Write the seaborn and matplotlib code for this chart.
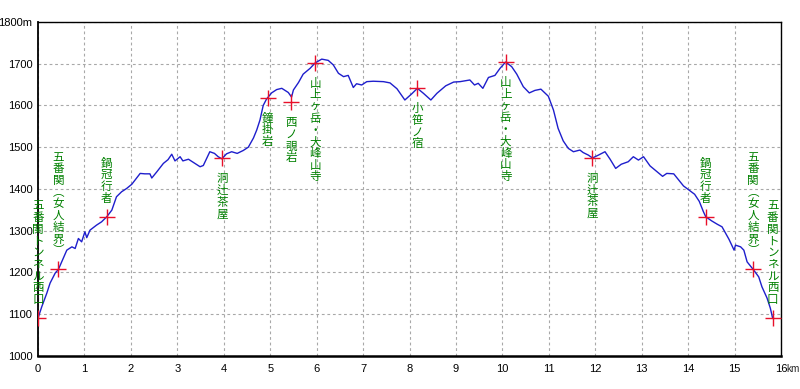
import matplotlib
matplotlib.use("Agg")
import matplotlib.pyplot as plt
import seaborn as sns
import pandas as pd

# ---------------- data ----------------
dist_km = [0.00, 0.08, 0.19, 0.26, 0.37, 0.44, 0.51, 0.62, 0.73, 0.80, 0.87, 0.94, 1.01, 1.05, 1.12,
           1.26, 1.37, 1.48, 1.59, 1.69, 1.80, 1.91, 2.02, 2.09, 2.20, 2.30, 2.41, 2.45, 2.56, 2.70,
           2.80, 2.88, 2.95, 3.06, 3.12, 3.24, 3.35, 3.49, 3.56, 3.70, 3.80, 3.88, 3.96, 4.06, 4.17,
           4.29, 4.42, 4.53, 4.64, 4.71, 4.78, 4.85, 4.92, 5.03, 5.14, 5.25, 5.39, 5.46, 5.50, 5.61,
           5.71, 5.86, 5.97, 6.11, 6.25, 6.36, 6.47, 6.58, 6.68, 6.79, 6.86, 6.97, 7.08, 7.22, 7.44,
           7.58, 7.73, 7.90, 8.05, 8.17, 8.30, 8.46, 8.59, 8.78, 8.95, 9.09, 9.30, 9.40, 9.48, 9.58,
           9.70, 9.84, 9.95, 10.07, 10.20, 10.31, 10.45, 10.58, 10.70, 10.83, 10.99, 11.10, 11.20,
           11.31, 11.42, 11.53, 11.67, 11.74, 11.85, 11.94, 12.07, 12.21, 12.32, 12.44, 12.56, 12.71,
           12.82, 12.93, 13.04, 13.18, 13.33, 13.45, 13.54, 13.69, 13.80, 13.90, 14.03, 14.14, 14.24,
           14.33, 14.38, 14.51, 14.63, 14.73, 14.81, 14.88, 14.99, 15.02, 15.13, 15.20, 15.27, 15.40,
           15.52, 15.59, 15.70, 15.77, 15.82]
elev_m = [1090, 1117, 1150, 1174, 1198, 1207, 1225, 1253, 1261, 1257, 1281, 1273, 1297, 1283, 1301,
          1313, 1321, 1333, 1349, 1381, 1393, 1401, 1411, 1421, 1437, 1436, 1436, 1426, 1441, 1461,
          1470, 1483, 1467, 1477, 1467, 1471, 1463, 1453, 1456, 1489, 1485, 1477, 1472, 1484, 1489,
          1485, 1492, 1500, 1522, 1541, 1565, 1600, 1615, 1630, 1638, 1641, 1631, 1620, 1637, 1655,
          1675, 1689, 1702, 1711, 1708, 1697, 1677, 1669, 1672, 1643, 1652, 1649, 1657, 1658, 1657,
          1654, 1640, 1613, 1628, 1641, 1629, 1613, 1629, 1647, 1656, 1657, 1661, 1649, 1653, 1641,
          1667, 1672, 1689, 1704, 1693, 1675, 1645, 1630, 1636, 1639, 1622, 1589, 1545,
          1515, 1497, 1489, 1493, 1487, 1481, 1474, 1481, 1489, 1471, 1449, 1459, 1465,
          1477, 1469, 1477, 1455, 1441, 1430, 1437, 1436, 1421, 1407, 1396, 1387, 1370,
          1345, 1333, 1323, 1315, 1309, 1293, 1279, 1253, 1265, 1261, 1253, 1225, 1207,
          1189, 1165, 1138, 1114, 1090]

point_km = [0.00, 0.44, 1.48, 3.96, 4.95, 5.45, 5.97, 8.17, 10.07, 11.94, 14.38, 15.40, 15.82]
point_m = [1090, 1207, 1333, 1473, 1618, 1608, 1702, 1641, 1703, 1474, 1333, 1207, 1090]
point_names = ["五番関トンネル西口", "五番関（女人結界）", "鍋冠行者", "洞辻茶屋", "鐘掛岩",
               "西ノ覗岩", "山上ヶ岳・大峰山寺", "小笹ノ宿", "山上ヶ岳・大峰山寺", "洞辻茶屋",
               "鍋冠行者", "五番関（女人結界）", "五番関トンネル西口"]
label_above = [True, True, True, False, False, False, False, False, False, False, True, True, True]

x_ticks = list(range(0, 17))
x_tick_labels = [str(v) for v in range(0, 17)]
y_ticks = list(range(1000, 1801, 100))
y_tick_labels = [str(v) for v in range(1000, 1800, 100)] + ["1800m"]

# ---------------- drawing ----------------
sns.set_style("white")
plt.rcParams["font.family"] = ["Noto Sans CJK JP", "DejaVu Sans"]
tick_family = ["Liberation Sans Narrow", "Liberation Sans", "DejaVu Sans"]

profile = pd.DataFrame({"km": dist_km, "m": elev_m})
points = pd.DataFrame({"km": point_km, "m": point_m})

fig = plt.figure(figsize=(8.0, 3.89), dpi=100)
ax = fig.add_axes([38 / 800, 1 - 355.7 / 389, (781 - 38) / 800, (355.7 - 22) / 389])

ax.set_xlim(0, 16)
ax.set_ylim(1000, 1800)
ax.set_xticks(x_ticks)
ax.set_xticklabels(x_tick_labels)
ax.set_yticks(y_ticks)
ax.set_yticklabels(y_tick_labels)
ax.grid(True, color="#a8a8a8", linestyle=(0, (2.5, 2.5)), linewidth=0.8)
ax.tick_params(length=0, labelsize=8, colors="black")
ax.tick_params(axis="x", pad=6)
ax.tick_params(axis="y", pad=4)
for lab in ax.get_xticklabels() + ax.get_yticklabels():
    lab.set_family(tick_family)

for side, lw in (("left", 1.3), ("bottom", 1.8), ("top", 1.0), ("right", 1.0)):
    ax.spines[side].set_visible(True)
    ax.spines[side].set_color("black")
    ax.spines[side].set_linewidth(lw)

sns.lineplot(data=profile, x="km", y="m", ax=ax, color="#1e1ecc", linewidth=1.0,
             sort=False, estimator=None)
sns.scatterplot(data=points, x="km", y="m", ax=ax, marker="+", s=120, color="#e8102a",
                linewidth=1.0, zorder=5)
ax.set_xlabel("")
ax.set_ylabel("")

# vertical (tategaki) labels: one character per text, stacked
px2pt = 72 / 100
label_size = 8.3                       # pt
char_step = 11.7 * px2pt               # pt between character centres
first_gap = 19.5 * px2pt               # pt from marker to nearest character centre
baseline_shift = 0.38 * label_size     # em-centre to baseline
vert_map = {"（": "︵", "）": "︶"}
for xk, ym, name, above in zip(point_km, point_m, point_names, label_above):
    chars = [vert_map.get(c, c) for c in name]
    n = len(chars)
    for i, ch in enumerate(chars):
        if above:
            centre = first_gap + (n - 1 - i) * char_step
        else:
            centre = -(first_gap + i * char_step)
        ax.annotate(ch, xy=(xk, ym), xytext=(0, centre - baseline_shift),
                    textcoords="offset points", ha="center", va="baseline",
                    fontsize=label_size, color="#008000", annotation_clip=False, zorder=6)

ax.annotate("km", xy=(1, 0), xycoords="axes fraction", xytext=(3.6, -9.4),
            textcoords="offset points", ha="left", va="center", fontsize=7.2,
            family=tick_family)

fig.savefig("out.png", dpi=100)
